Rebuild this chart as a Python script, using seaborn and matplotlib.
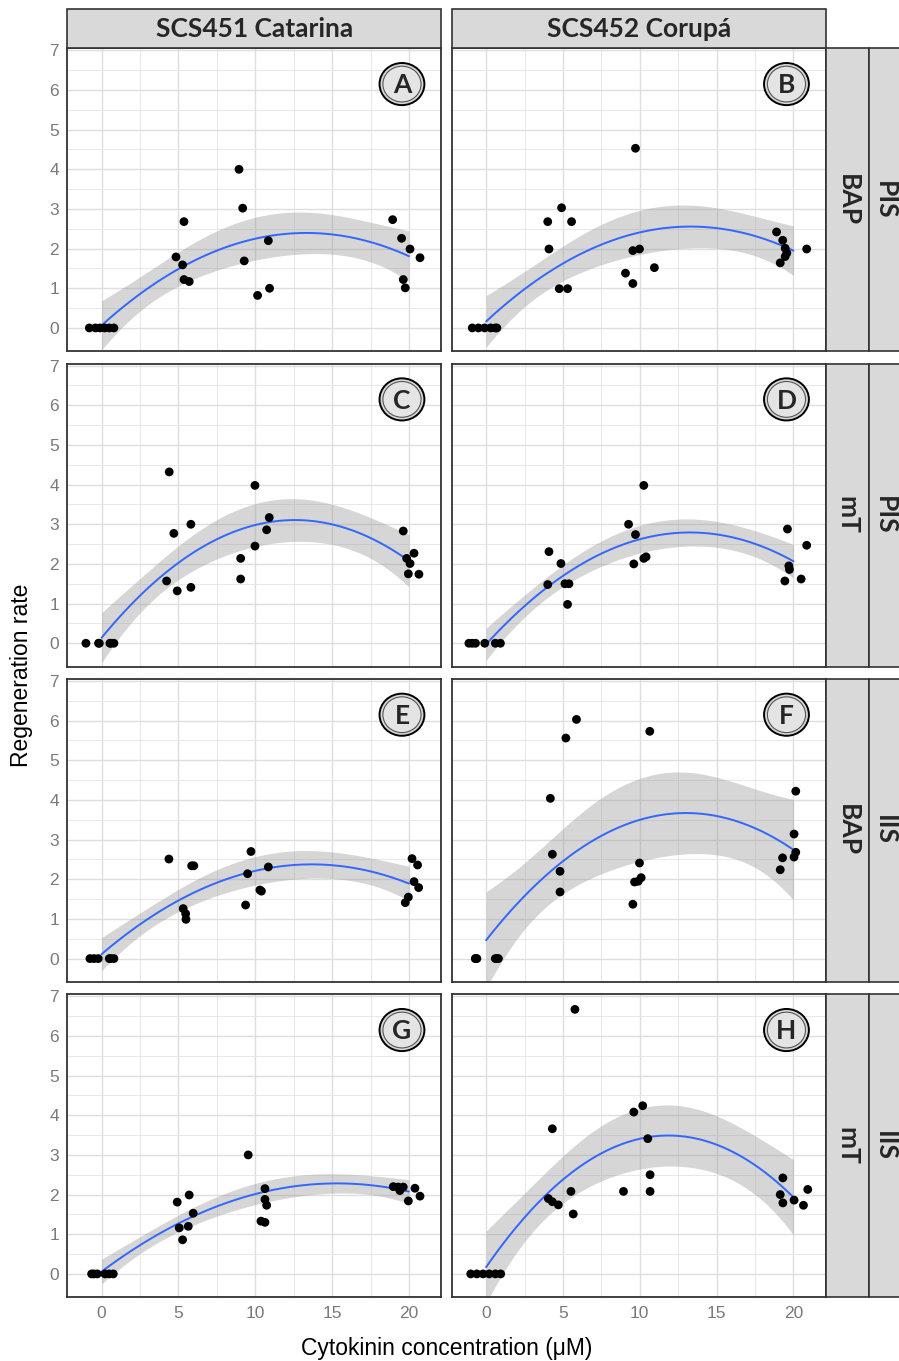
import numpy as np
import pandas as pd
import seaborn as sns
from matplotlib import pyplot as plt
from matplotlib.patches import Rectangle, Ellipse

# values (x = jittered position as drawn, y = regeneration rate)
A_x = [-0.8, -0.4, -0.1, 0.2, 0.5, 0.8, 5.36, 4.84, 5.27, 5.36, 5.7, 8.94, 9.18, 9.28, 10.85, 10.15, 10.93,
       18.94, 19.52, 20.07, 20.72, 19.63, 19.76]
A_y = [0, 0, 0, 0, 0, 0, 2.68, 1.79, 1.59, 1.22, 1.17, 4.0, 3.02, 1.69, 2.2, 0.82, 1.0,
       2.73, 2.26, 1.99, 1.77, 1.22, 1.01]
B_x = [-0.9, -0.5, -0.1, 0.3, 0.6, 0.7, 4.91, 4.01, 5.56, 4.09, 4.76, 5.30, 9.72, 9.55, 9.98, 9.07, 9.55, 10.95,
       18.9, 19.3, 19.46, 19.57, 19.46, 19.14, 20.86]
B_y = [0, 0, 0, 0, 0, 0, 3.03, 2.68, 2.68, 1.99, 0.99, 0.99, 4.53, 1.95, 1.99, 1.38, 1.12, 1.52,
       2.42, 2.21, 2.01, 1.89, 1.80, 1.64, 1.99]
C_x = [-1.02, -0.15, 0.54, 0.8, 0.6, -0.2, 4.4, 4.7, 5.81, 4.23, 4.92, 5.81, 9.98, 10.91, 10.74, 9.98, 9.05, 9.05,
       19.63, 20.33, 19.85, 20.07, 19.96, 20.65]
C_y = [0, 0, 0, 0, 0, 0, 4.32, 2.77, 3.0, 1.57, 1.32, 1.41, 3.98, 3.17, 2.86, 2.45, 2.14, 1.62,
       2.83, 2.27, 2.14, 2.01, 1.75, 1.74]
D_x = [-1.12, -0.69, -0.09, 0.6, 0.93, -0.9, 4.09, 4.87, 4.01, 5.13, 5.39, 5.30, 10.26, 9.27, 9.72, 10.26, 10.41, 9.61,
       19.61, 20.86, 19.74, 19.7, 19.44, 20.5]
D_y = [0, 0, 0, 0, 0, 0, 2.31, 2.01, 1.48, 1.5, 1.5, 0.98, 3.98, 3.0, 2.74, 2.14, 2.18, 2.0,
       2.88, 2.47, 1.86, 1.95, 1.57, 1.62]
E_x = [-0.76, -0.22, 0.5, 0.8, -0.5, 0.6, 4.38, 5.86, 5.31, 5.47, 5.49, 6.0, 9.72, 9.5, 10.85, 10.3, 9.37, 10.4,
       20.2, 20.56, 20.33, 20.63, 19.96, 19.76]
E_y = [0, 0, 0, 0, 0, 0, 2.51, 2.34, 1.26, 1.13, 0.99, 2.34, 2.70, 2.14, 2.31, 1.73, 1.35, 1.7,
       2.52, 2.36, 1.94, 1.79, 1.55, 1.41]
F_x = [-0.69, 0.71, -0.6, 0.8, -0.7, 0.6, 5.88, 5.19, 4.18, 4.31, 4.81, 4.81, 10.65, 9.98, 10.09, 9.66, 9.55, 9.9,
       20.15, 20.04, 20.15, 20.04, 19.29, 19.14]
F_y = [0, 0, 0, 0, 0, 0, 6.03, 5.56, 4.04, 2.63, 2.2, 1.68, 5.73, 2.41, 2.04, 1.93, 1.37, 1.95,
       4.22, 3.14, 2.68, 2.56, 2.54, 2.24]
G_x = [-0.65, -0.28, 0.22, 0.76, -0.5, 0.5, 4.92, 5.7, 5.96, 5.05, 5.64, 5.27, 9.54, 10.63, 10.63, 10.74, 10.37, 10.63,
       18.98, 19.3, 19.63, 19.41, 20.39, 20.72, 19.96]
G_y = [0, 0, 0, 0, 0, 0, 1.81, 1.99, 1.53, 1.16, 1.2, 0.86, 3.0, 2.15, 1.88, 1.73, 1.33, 1.3,
       2.2, 2.19, 2.19, 2.1, 2.16, 1.96, 1.84]
H_x = [-1.0, -0.6, -0.2, 0.2, 0.6, 0.95, 5.78, 4.31, 4.05, 4.31, 4.7, 5.52, 5.67, 9.61, 10.19, 10.52, 10.67, 8.94, 10.67,
       19.31, 19.14, 19.31, 20.04, 20.65, 20.93]
H_y = [0, 0, 0, 0, 0, 0, 6.67, 3.66, 1.9, 1.82, 1.74, 2.08, 1.51, 4.08, 4.24, 3.41, 2.5, 2.08, 2.08,
       2.42, 2.0, 1.79, 1.86, 1.73, 2.13]

doses = [0, 5, 10, 20]
cultivars = ['SCS451 Catarina', 'SCS452 Corupá']
cytokinins = ['BAP', 'mT', 'BAP', 'mT']
systems = ['PIS', 'PIS', 'IIS', 'IIS']
letters = ['A', 'B', 'C', 'D', 'E', 'F', 'G', 'H']

panels = {'A': (A_x, A_y), 'B': (B_x, B_y), 'C': (C_x, C_y), 'D': (D_x, D_y),
          'E': (E_x, E_y), 'F': (F_x, F_y), 'G': (G_x, G_y), 'H': (H_x, H_y)}

frames = []
for i, let in enumerate(letters):
    r, c = divmod(i, 2)
    xs, ys = panels[let]
    xs = np.asarray(xs, float)
    nominal = np.asarray(doses)[np.abs(xs[:, None] - np.asarray(doses)[None, :]).argmin(axis=1)]
    frames.append(pd.DataFrame({'conc': xs, 'rate': ys, 'dose': nominal,
                                'cultivar': cultivars[c], 'row': f'{cytokinins[r]} {systems[r]}',
                                'letter': let}))
df = pd.concat(frames, ignore_index=True)
row_order = [f'{a} {b}' for a, b in zip(cytokinins, systems)]


def t975(dof):
    z = 1.959964
    return z + (z**3 + z) / (4 * dof) + (5 * z**5 + 16 * z**3 + 3 * z) / (96 * dof**2)


def draw_panel(data, **kws):
    ax = plt.gca()
    x = data['dose'].to_numpy(float)
    y = data['rate'].to_numpy(float)
    X = np.column_stack([np.ones_like(x), x, x**2])
    beta, *_ = np.linalg.lstsq(X, y, rcond=None)
    dof = len(y) - 3
    s2 = np.sum((y - X @ beta) ** 2) / dof
    cov = np.linalg.inv(X.T @ X) * s2
    xg = np.linspace(x.min(), x.max(), 100)
    Xg = np.column_stack([np.ones_like(xg), xg, xg**2])
    fit = Xg @ beta
    se = np.sqrt(np.einsum('ij,jk,ik->i', Xg, cov, Xg))
    ax.fill_between(xg, fit - t975(dof) * se, fit + t975(dof) * se, color='#999999', alpha=0.4,
                    lw=0, zorder=2)
    ax.plot(xg, fit, color='#3366FF', lw=1.4, zorder=3)
    sns.scatterplot(data=data, x='conc', y='rate', color='black', s=40, edgecolor='none',
                    ax=ax, zorder=4)


sns.set_theme(style='white')
plt.rcParams['font.family'] = ['Liberation Sans', 'DejaVu Sans']

g = sns.FacetGrid(df, row='row', col='cultivar', row_order=row_order, col_order=cultivars,
                  sharex=True, sharey=True, despine=False, height=3, aspect=1.2)
g.map_dataframe(draw_panel)
g.set_titles('')
g.set_axis_labels('', '')
g.figure.set_size_inches(8.99, 13.61)
g.figure.subplots_adjust(left=0.0749, right=0.9185, top=0.9645, bottom=0.0468,
                         wspace=0.0284, hspace=0.0406)
fig = g.figure

for i, ax in enumerate(g.axes.flat):
    r, c = divmod(i, 2)
    ax.set_xlim(-2.23, 22.1)
    ax.set_ylim(-0.59, 7.05)
    ax.set_xticks([0, 5, 10, 15, 20])
    ax.set_yticks(range(8))
    ax.set_xticks([2.5, 7.5, 12.5, 17.5], minor=True)
    ax.set_yticks(np.arange(0.5, 7, 1), minor=True)
    ax.grid(which='major', color='#dedede', lw=1.0, zorder=0)
    ax.grid(which='minor', color='#e8e8e8', lw=0.7, zorder=0)
    ax.set_axisbelow(True)
    for sp in ax.spines.values():
        sp.set_color('#333333')
        sp.set_linewidth(1.3)
    ax.tick_params(which='minor', length=0)
    ax.tick_params(which='major', color='#333333', length=4, width=1.0,
                   labelcolor='#7a7a7a', labelsize=12.5, pad=2)
    for lab in ax.get_xticklabels() + ax.get_yticklabels():
        lab.set_family(['Liberation Sans Narrow', 'Liberation Sans'])
    if c != 0:
        ax.tick_params(axis='y', length=0)
    if r != 3:
        ax.tick_params(axis='x', length=0)
    ax.set_xlabel('')
    ax.set_ylabel('')
    # panel letter badge
    ax.add_patch(Ellipse((0.895, 0.882), 0.12, 0.139, transform=ax.transAxes, fc='#d6d6d6',
                         ec='black', lw=1.4, zorder=5))
    ax.add_patch(Ellipse((0.895, 0.882), 0.102, 0.118, transform=ax.transAxes, fc='#e4e4e4',
                         ec='#555555', lw=0.8, zorder=5))
    ax.text(0.895, 0.878, letters[i], transform=ax.transAxes, ha='center', va='center',
            fontsize=19, fontweight='bold', family=['Lato', 'DejaVu Sans'], zorder=6)

W, H = 899, 1361
strip_kw = dict(fc='#d9d9d9', ec='#333333', lw=1.2, transform=fig.transFigure, zorder=0)
strip_font = dict(fontsize=19, fontweight='bold', family=['Lato', 'DejaVu Sans'])
for c, name in enumerate(cultivars):
    b = g.axes[0, c].get_position()
    fig.patches.append(Rectangle((b.x0, b.y1), b.width, 39 / H, **strip_kw))
    fig.text((b.x0 + b.x1) / 2, b.y1 + 19.5 / H, name, ha='center', va='center', **strip_font)
for r in range(4):
    b = g.axes[r, 1].get_position()
    fig.patches.append(Rectangle((b.x1, b.y0), 43.5 / W, b.height, **strip_kw))
    fig.patches.append(Rectangle((b.x1 + 43.5 / W, b.y0), 45 / W, b.height, **strip_kw))
    fig.text(b.x1 + 21.75 / W, (b.y0 + b.y1) / 2, cytokinins[r], rotation=270, ha='center',
             va='center', **strip_font)
    fig.text(b.x1 + 59 / W, (b.y0 + b.y1) / 2, systems[r], rotation=270, ha='center',
             va='center', **strip_font)

fig.text(22 / W, 1 - 675 / H, 'Regeneration rate', rotation=90, ha='center', va='center',
         fontsize=16.5, color='black')
fig.text(447 / W, 1 - 1348 / H, 'Cytokinin concentration (μM)', ha='center', va='center',
         fontsize=16.5, color='black')

fig.savefig('out.png', dpi=100)
